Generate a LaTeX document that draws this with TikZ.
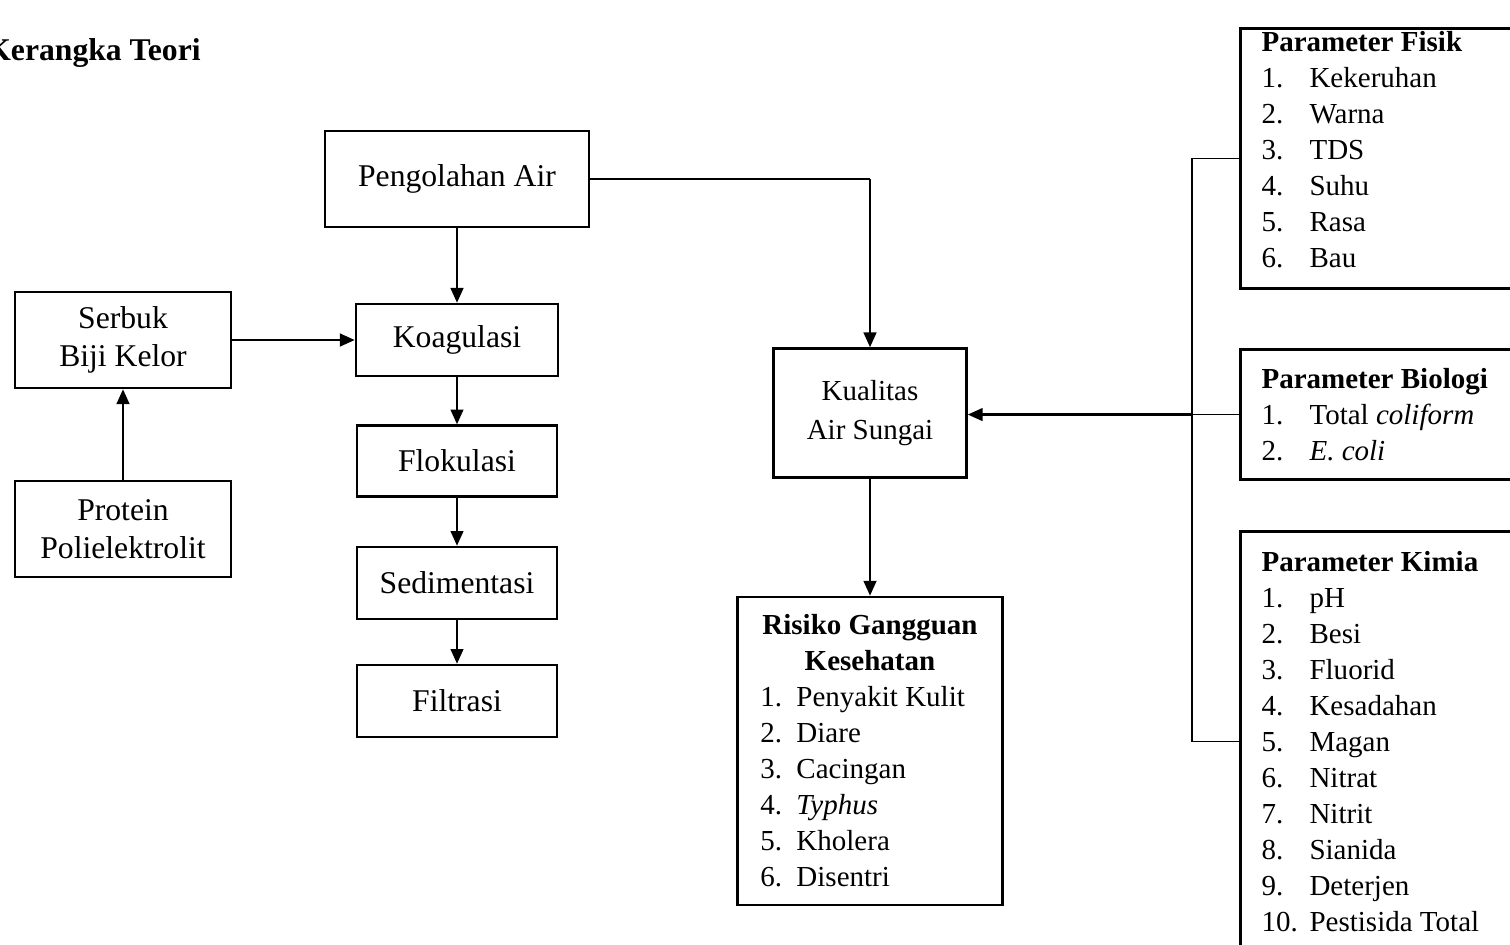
\documentclass[tikz,border=0pt]{standalone}
\usepackage{fontspec}
\setmainfont{Liberation Serif}
\usetikzlibrary{arrows.meta, positioning}

\begin{document}
\begin{tikzpicture}[x=0.01cm, y=-0.01cm,
    every node/.style={font=\fontsize{9pt}{11pt}\selectfont},
    bx/.style={draw, line width=0.7pt, align=center, inner sep=0pt},
    lst/.style={font=\fontsize{8.25pt}{10.24pt}\selectfont, align=left, execute at begin node={\spaceskip=0pt\relax}},
    pb/.style={lst, draw, line width=0.85pt, anchor=north west, inner xsep=0.21cm, inner ysep=0pt, text width=2.9cm},
    a/.style={-{Triangle[length=4.2pt, width=3.6pt]}, line width=0.65pt},
    ln/.style={line width=0.3pt}
]
\def\li#1#2{\makebox[0.48cm][l]{#1}#2}
\def\ri#1#2{\makebox[0.36cm][l]{#1}#2}
\useasboundingbox (0,0) rectangle (1510,944);
\clip (0,0) rectangle (1510,944);
\node[anchor=east] (judul) at (213,53) {\textbf{Kerangka Teori}};
% proses pengolahan
\node[bx, minimum width=2.64cm, minimum height=0.96cm] (pengolahan) at (457,179) {Pengolahan Air};
\node[bx, minimum width=2.02cm, minimum height=0.72cm] (koagulasi) at (457,340) {Koagulasi};
\node[bx, minimum width=2.00cm, minimum height=0.71cm] (flokulasi) at (457,461) {Flokulasi};
\node[bx, minimum width=2.00cm, minimum height=0.72cm] (sedimentasi) at (457,583) {Sedimentasi};
\node[bx, minimum width=2.00cm, minimum height=0.72cm] (filtrasi) at (457,701) {Filtrasi};
\node[bx, minimum width=2.16cm, minimum height=0.96cm] (serbuk) at (123,340) {Serbuk\\Biji Kelor};
\node[bx, minimum width=2.16cm, minimum height=0.96cm] (protein) at (123,529) {Protein\\Polielektrolit};
\node[bx, font=\fontsize{8.25pt}{11.1pt}\selectfont, minimum width=1.93cm, minimum height=1.29cm] (kualitas) at (870,413) {Kualitas\\Air Sungai};
\node[bx, lst, inner xsep=0.23cm, text width=2.19cm, minimum height=3.08cm] (risiko) at (870,751)
  {\makebox[\linewidth][c]{\textbf{Risiko Gangguan}}\\\makebox[\linewidth][c]{\textbf{Kesehatan}}\\
   \ri{1.}{Penyakit Kulit}\\\ri{2.}{Diare}\\\ri{3.}{Cacingan}\\\ri{4.}{\textit{Typhus}}\\\ri{5.}{Kholera}\\\ri{6.}{Disentri}};
% parameter
\node[pb, minimum height=2.60cm, text depth=2.34cm] (fisik) at (1239,27)
  {\textbf{Parameter Fisik}\\\li{1.}{Kekeruhan}\\\li{2.}{Warna}\\\li{3.}{TDS}\\\li{4.}{Suhu}\\\li{5.}{Rasa}\\\li{6.}{Bau}};
\node[pb, minimum height=1.30cm] (biologi) at (1239,348)
  {\textbf{Parameter Biologi}\\\li{1.}{Total \textit{coliform}}\\\li{2.}{\textit{E. coli}}};
\node[pb, minimum height=4.20cm] (kimia) at (1239,530)
  {\textbf{Parameter Kimia}\\\li{1.}{pH}\\\li{2.}{Besi}\\\li{3.}{Fluorid}\\\li{4.}{Kesadahan}\\\li{5.}{Magan}\\\li{6.}{Nitrat}\\\li{7.}{Nitrit}\\\li{8.}{Sianida}\\\li{9.}{Deterjen}\\\li{10.}{Pestisida Total}};
% panah
\draw[a] (pengolahan) -- (koagulasi);
\draw[a] (koagulasi) -- (flokulasi);
\draw[a] (flokulasi) -- (sedimentasi);
\draw[a] (sedimentasi) -- (filtrasi);
\draw[a] (serbuk) -- (koagulasi);
\draw[a] (protein) -- (serbuk);
\coordinate (knee) at (kualitas.north |- pengolahan.east);
\draw[ln] (pengolahan.east) -- (knee);
\draw[a] (knee) -- (kualitas.north);
\draw[a] (kualitas) -- (risiko);
\path (biologi.west) ++(-47,0) coordinate (brk);
\draw[ln] (fisik.west) -| (brk) |- (kimia.west);
\draw[ln] (biologi.west) -- (brk);
\draw[a] (brk) -- (brk -| kualitas.east);
\end{tikzpicture}
\end{document}
